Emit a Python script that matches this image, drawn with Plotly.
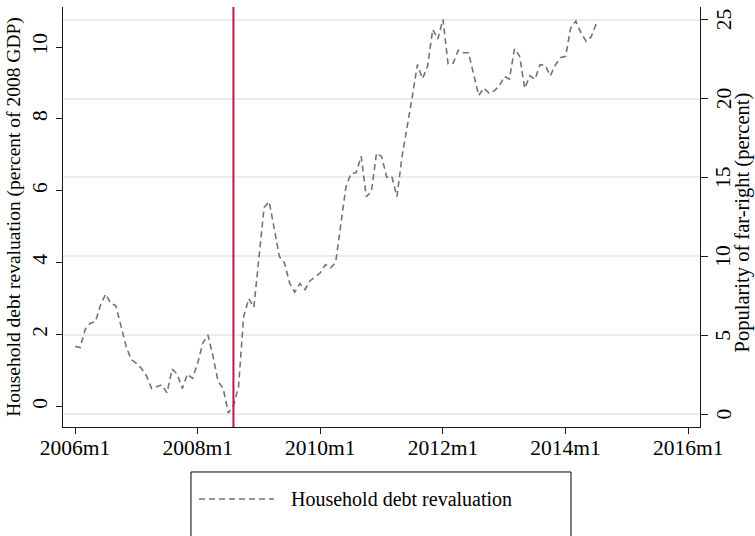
import plotly.graph_objects as go

# Monthly series, Stata-style monthly dates (tm(1960m1) = 0)
start_label = "2006m1"
debt_reval = [
    1.67, 1.64, 2.15, 2.32, 2.36, 2.83, 3.13, 2.87, 2.80, 2.22, 1.67, 1.31,   # 2006
    1.20, 1.06, 0.85, 0.50, 0.55, 0.60, 0.38, 1.04, 0.90, 0.50, 0.90, 0.78,   # 2007
    1.20, 1.76, 1.99, 1.40, 0.70, 0.50, -0.18, 0.02, 0.55, 2.50, 3.00, 2.76,  # 2008
    4.15, 5.54, 5.70, 4.88, 4.17, 3.99, 3.43, 3.18, 3.42, 3.25, 3.50, 3.60,   # 2009
    3.72, 3.95, 3.86, 4.00, 5.00, 6.10, 6.48, 6.50, 6.96, 5.84, 5.98, 7.05,   # 2010
    6.95, 6.38, 6.40, 5.84, 6.96, 7.75, 8.62, 9.51, 9.12, 9.47, 10.49, 10.22, # 2011
    10.77, 9.53, 9.55, 9.91, 9.84, 9.84, 9.25, 8.65, 8.86, 8.72, 8.78, 8.91,  # 2012
    9.18, 9.11, 9.95, 9.75, 8.85, 9.20, 9.10, 9.51, 9.49, 9.20, 9.50, 9.70,   # 2013
    9.74, 10.53, 10.72, 10.40, 10.16, 10.28, 10.65,                           # 2014
]
series_name = "Household debt revaluation"
event_label = "2008m8"
right_title = "Popularity of far-right (percent)"

x_tick_labels = ["2006m1", "2008m1", "2010m1", "2012m1", "2014m1", "2016m1"]
left_ticks = [0, 2, 4, 6, 8, 10]
right_ticks = [0, 5, 10, 15, 20, 25]


def tm(label):
    y, m = label.split("m")
    return (int(y) - 1960) * 12 + int(m) - 1


t0 = tm(start_label)
months = [t0 + k for k in range(len(debt_reval))]
x_tick_vals = [tm(s) for s in x_tick_labels]
event_month = tm(event_label)

FONT = "Liberation Serif"
AXIS_COLOR = "#1a1a1a"
GRID_COLOR = "#e6eef0"
TICK_SIZE = 21.5

fig = go.Figure()

fig.add_trace(go.Scatter(
    x=months, y=debt_reval, mode="lines", name=series_name,
    line=dict(color="#737373", width=1.6, dash="6px,4px"),
    showlegend=False, yaxis="y",
))
# right-hand axis (popularity of far-right); carries the grid
fig.add_trace(go.Scatter(x=[], y=[], yaxis="y2", showlegend=False,
                         hoverinfo="skip"))

# event marker
fig.add_shape(type="line", xref="x", yref="paper",
              x0=event_month, x1=event_month, y0=0, y1=1,
              line=dict(color="#c8143f", width=2), layer="above")

# right-axis labels, rotated like the left ones
for v in right_ticks:
    fig.add_annotation(xref="paper", yref="y2", x=1.0370, y=v,
                       text=str(v), textangle=-90, showarrow=False,
                       xanchor="center", yanchor="middle",
                       font=dict(family=FONT, size=TICK_SIZE, color="black"))
fig.add_annotation(xref="paper", yref="paper", x=1.0665, y=0.488,
                   text=right_title, textangle=-90, showarrow=False,
                   xanchor="center", yanchor="middle",
                   font=dict(family=FONT, size=20.5, color="black"))

# legend box drawn below the plot
fig.add_shape(type="rect", xref="paper", yref="paper",
              x0=0.2009, x1=0.7975, y0=-0.1071, y1=-0.30,
              line=dict(color="black", width=1), fillcolor="white")
fig.add_shape(type="line", xref="paper", yref="paper",
              x0=0.2135, x1=0.3312, y0=-0.1714, y1=-0.1714,
              line=dict(color="#737373", width=1.6, dash="6px,4px"))
fig.add_annotation(xref="paper", yref="paper", x=0.3548, y=-0.1714,
                   xanchor="left", yanchor="middle", showarrow=False,
                   text=series_name, font=dict(family=FONT, size=20, color="black"))

fig.update_layout(
    width=755, height=536,
    margin=dict(l=63, r=55, t=7, b=109, autoexpand=False),
    paper_bgcolor="white", plot_bgcolor="white",
    font=dict(family=FONT, size=19, color="black"),
    xaxis=dict(
        automargin=False,
        range=[t0 - 2.35, t0 + 122.3],
        tickmode="array", tickvals=x_tick_vals, ticktext=x_tick_labels,
        tickfont=dict(family=FONT, size=TICK_SIZE),
        ticks="outside", ticklen=6, tickwidth=1.3, tickcolor=AXIS_COLOR,
        ticklabelstandoff=-5,
        showline=True, linecolor=AXIS_COLOR, linewidth=1.3,
        showgrid=False, zeroline=False,
    ),
    yaxis=dict(
        automargin=False,
        range=[-0.570, 11.113],
        tickmode="array", tickvals=left_ticks, tickangle=-90,
        tickfont=dict(family=FONT, size=TICK_SIZE),
        ticks="outside", ticklen=6, tickwidth=1.3, tickcolor=AXIS_COLOR,
        showline=True, linecolor=AXIS_COLOR, linewidth=1.3,
        showgrid=False, zeroline=False,
        title=dict(text="Household debt revaluation (percent of 2008 GDP)",
                   font=dict(family=FONT, size=19.5), standoff=2),
    ),
    yaxis2=dict(
        automargin=False,
        overlaying="y", side="right",
        range=[-0.824, 25.805],
        tickmode="array", tickvals=right_ticks, showticklabels=False,
        ticks="outside", ticklen=7, tickwidth=1.3, tickcolor=AXIS_COLOR,
        showline=True, linecolor=AXIS_COLOR, linewidth=1.3,
        showgrid=True, gridcolor=GRID_COLOR, gridwidth=1.5,
        zeroline=False,
    ),
)

fig.write_html("out.html")
